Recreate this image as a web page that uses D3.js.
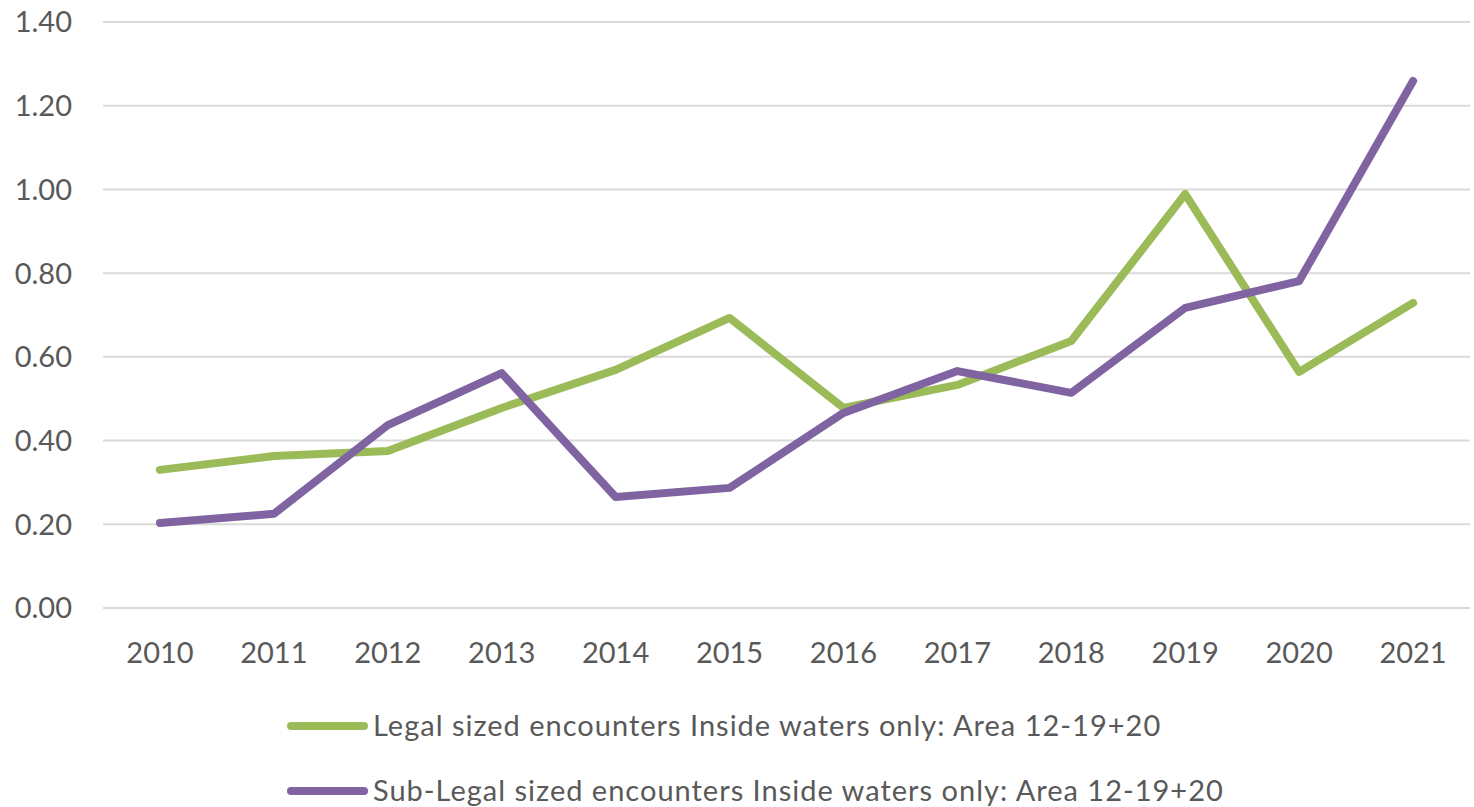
<!DOCTYPE html>
<html>
<head>
<meta charset="utf-8">
<script src="https://cdn.jsdelivr.net/npm/d3@7"></script>
<style>
  body { margin: 0; background: #fff; }
  svg { display: block; font-family: Lato, "Open Sans", sans-serif; }
  .grid line { stroke: #d9d9d9; stroke-width: 2px; }
  .tick-label { fill: #595959; font-size: 29px; }
  .legend-label { fill: #595959; font-size: 29px; letter-spacing: 1px; }
</style>
</head>
<body>
<svg id="chart" width="1474" height="807"></svg>
<script>
// data
const years = ['2010', '2011', '2012', '2013', '2014', '2015', '2016', '2017', '2018', '2019', '2020', '2021'];
const legalValues = [0.33, 0.363, 0.375, 0.478, 0.569, 0.693, 0.478, 0.533, 0.638, 0.989, 0.564, 0.729];
const subLegalValues = [0.203, 0.225, 0.437, 0.561, 0.265, 0.287, 0.466, 0.566, 0.514, 0.717, 0.781, 1.259];
const yTicks = [0, 0.2, 0.4, 0.6, 0.8, 1.0, 1.2, 1.4];
const seriesNames = [
  'Legal sized encounters Inside waters only: Area 12-19+20',
  'Sub-Legal sized encounters Inside waters only: Area 12-19+20'
];
const seriesColors = ['#9bbb59', '#8064a2'];

const svg = d3.select('#chart');
const margin = { top: 22, right: 4, bottom: 199, left: 103 };
const width = 1474, height = 807;

const x = d3.scaleBand()
  .domain(years)
  .range([margin.left, width - margin.right]);

const y = d3.scaleLinear()
  .domain([0, 1.4])
  .range([height - margin.bottom, margin.top]);

// gridlines
svg.append('g')
  .attr('class', 'grid')
  .selectAll('line')
  .data(yTicks)
  .enter().append('line')
  .attr('x1', margin.left)
  .attr('x2', width - margin.right)
  .attr('y1', d => y(d))
  .attr('y2', d => y(d));

// y labels
svg.append('g')
  .selectAll('text')
  .data(yTicks)
  .enter().append('text')
  .attr('class', 'tick-label')
  .attr('x', 72)
  .attr('y', d => y(d))
  .attr('dy', '0.36em')
  .attr('text-anchor', 'end')
  .text(d => d3.format('.2f')(d));

// x labels
svg.append('g')
  .selectAll('text')
  .data(years)
  .enter().append('text')
  .attr('class', 'tick-label')
  .attr('x', d => x(d) + x.bandwidth() / 2)
  .attr('y', 663)
  .attr('text-anchor', 'middle')
  .text(d => d);

const line = d3.line()
  .x((d, i) => x(years[i]) + x.bandwidth() / 2)
  .y(d => y(d));

[legalValues, subLegalValues].forEach((vals, i) => {
  svg.append('path')
    .datum(vals)
    .attr('fill', 'none')
    .attr('stroke', seriesColors[i])
    .attr('stroke-width', 8)
    .attr('stroke-linejoin', 'round')
    .attr('stroke-linecap', 'round')
    .attr('d', line);
});

// legend
const legend = svg.append('g')
  .selectAll('g')
  .data(seriesNames)
  .enter().append('g')
  .attr('transform', (d, i) => `translate(0,${726 + i * 65})`);

legend.append('line')
  .attr('x1', 291)
  .attr('x2', 364)
  .attr('stroke', (d, i) => seriesColors[i])
  .attr('stroke-width', 8)
  .attr('stroke-linecap', 'round');

legend.append('text')
  .attr('class', 'legend-label')
  .attr('x', 373)
  .attr('dy', '0.36em')
  .text(d => d);
</script>
</body>
</html>
